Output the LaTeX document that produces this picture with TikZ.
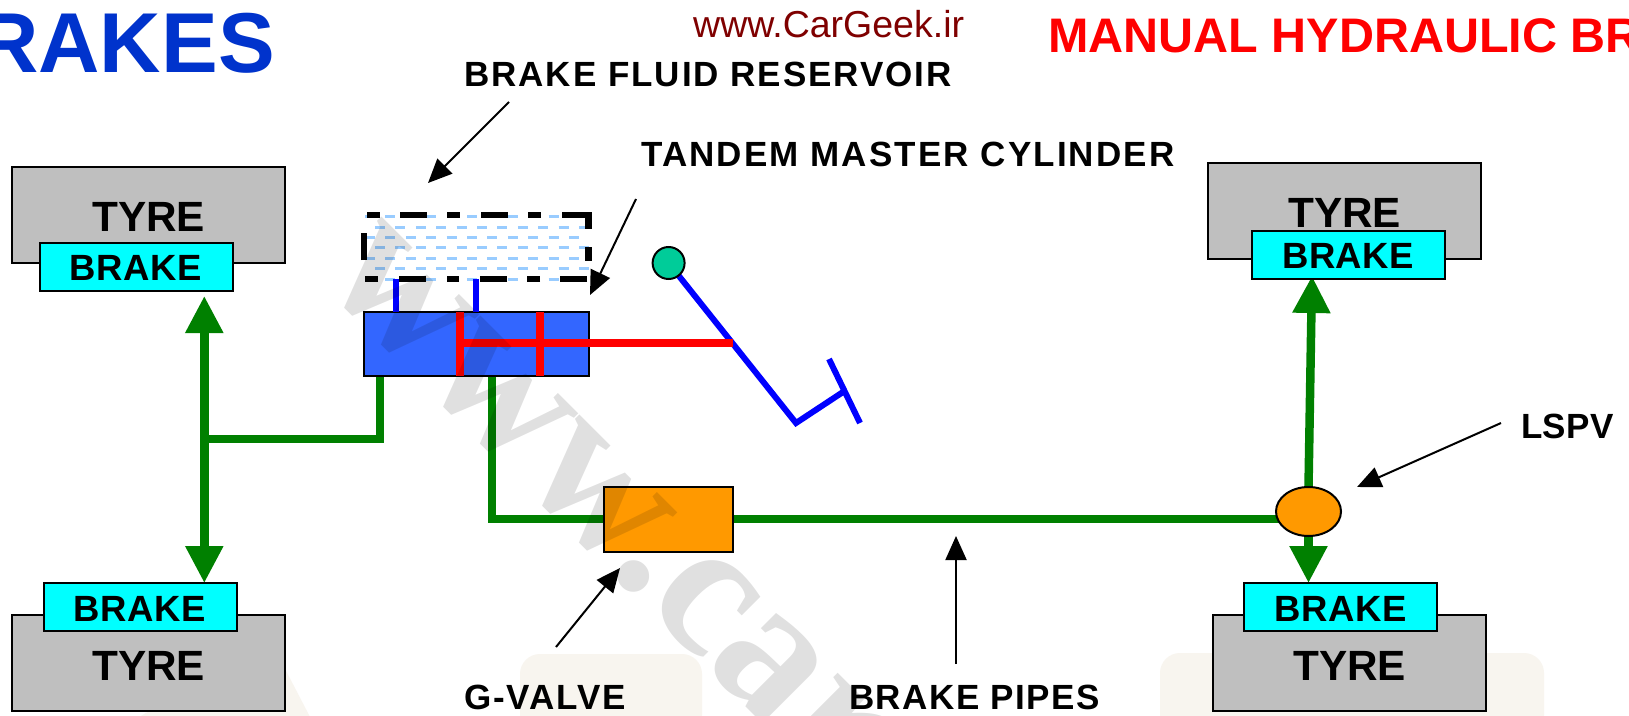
\documentclass[tikz,border=0pt]{standalone}
\usepackage{fontspec}
\setmainfont{Liberation Sans}
\newfontfamily\wmfont{Liberation Serif}
\usetikzlibrary{arrows.meta,shapes.geometric,calc,backgrounds}
\definecolor{pipegreen}{HTML}{008000}
\definecolor{tyregrey}{HTML}{BFBFBF}
\definecolor{brakecyan}{HTML}{00FFFF}
\definecolor{mcblue}{HTML}{3366FF}
\definecolor{valveorange}{HTML}{FF9900}
\definecolor{pedalblue}{HTML}{0000FF}
\definecolor{pivotgreen}{HTML}{00CC99}
\definecolor{fluidblue}{HTML}{99CCFF}
\definecolor{titleblue}{HTML}{0033CC}
\definecolor{urlred}{HTML}{7F0000}
\definecolor{beige}{HTML}{F8F5EF}
\tikzset{
  x=1pt,y=-1pt,
  boxnode/.style={draw=black,line width=2pt,anchor=north west,inner sep=0pt,outer sep=0pt},
  tyrebox/.style={boxnode,fill=tyregrey,minimum width=273pt,minimum height=96pt},
  brakebox/.style={boxnode,fill=brakecyan,minimum width=193pt,minimum height=48pt},
  tyretext/.style={font=\fontsize{42.3}{43}\selectfont\bfseries,anchor=base west,inner sep=0pt},
  braketext/.style={font=\fontsize{36.5}{36}\selectfont\bfseries\addfontfeature{LetterSpace=1.5},anchor=base west,inner sep=0pt},
  labeltext/.style={font=\fontsize{35}{35}\selectfont\bfseries\addfontfeature{LetterSpace=#1},anchor=base west,inner sep=0pt},
  labeltext/.default=5.6,
  pipe/.style={draw=pipegreen,line width=8.5pt,line join=miter},
  pipearrow/.style={pipe,-{Triangle[length=37pt,width=36pt]}},
  pointer/.style={draw=black,line width=2pt,-{Triangle[length=24pt,width=21pt]}},
  pedal/.style={draw=pedalblue,line width=6pt,line join=miter},
  piston/.style={draw=red,line width=7.5pt},
  fluid/.style={draw=fluidblue,line width=3pt,dash pattern=on 10pt off 10.4pt},
  blackdash/.style={draw=black,line width=6.5pt},
}
\begin{document}
\begin{tikzpicture}
\useasboundingbox (0,0) rectangle (1629,715);
\begin{scope}[on background layer]
\fill[white] (0,0) rectangle (1629,715);
% faint background shapes
\fill[beige,rounded corners=20pt] (520,654) rectangle (702,740);
\fill[beige,rounded corners=20pt] (1160,653) rectangle (1544,740);
\fill[beige] (100,740) -- (270,640) -- (322,740) -- cycle;
\end{scope}

% headings
\node[font=\fontsize{85}{85}\selectfont\bfseries,text=titleblue,anchor=base east,inner sep=0pt] (title) at (275,72) {RAKES};
\node[font=\fontsize{37.5}{37}\selectfont,text=urlred,anchor=base west,inner sep=0pt] (url) at (693,37) {www.CarGeek.ir};
\node[font=\fontsize{48.5}{49}\selectfont\bfseries,text=red,anchor=base west,inner sep=0pt] (subtitle) at (1048,52) {MANUAL HYDRAULIC BR};

% tyres and brakes
\node[tyrebox] (tyreTL) at (12,167) {};
\node[brakebox] (brakeTL) at (40,243) {};
\node[tyrebox] (tyreBL) at (12,615) {};
\node[brakebox] (brakeBL) at (44,583) {};
\node[tyrebox] (tyreTR) at (1208,163) {};
\node[brakebox] (brakeTR) at (1252,231) {};
\node[tyrebox] (tyreBR) at (1213,615) {};
\node[brakebox] (brakeBR) at (1244,583) {};
\node[tyretext] (tTL) at (92,231) {TYRE};
\node[tyretext] (tBL) at (92,680) {TYRE};
\node[tyretext] (tTR) at (1288,227) {TYRE};
\node[tyretext] (tBR) at (1293,680) {TYRE};
\node[braketext] (bTL) at (69.5,280) {BRAKE};
\node[braketext] (bBL) at (73.5,621) {BRAKE};
\node[braketext] (bTR) at (1282,268) {BRAKE};
\node[braketext] (bBR) at (1274.5,621) {BRAKE};

% reservoir fluid
\foreach \yy/\xs in {216/365,227/375,237/365,247/375,258/365,268/375,279/365}
  \draw[fluid] (\xs,\yy) -- (589,\yy);
% reservoir outline
\draw[blackdash]
  (367,215) -- (380,215) (400,215) -- (427,215) (447,215) -- (460,215)
  (481,215) -- (507.5,215) (528,215) -- (541,215)
  (562,215) -- (588.6,215) -- (588.6,229)
  (588.6,247) -- (588.6,261)
  (587,279) -- (560,279) (540,279) -- (527,279) (507,279) -- (480,279)
  (459,279) -- (447,279) (426,279) -- (399,279) (378,279) -- (365,279)
  (364,260) -- (364,233);
\coordinate (resA) at (396,279);
\coordinate (resB) at (476,279);

% master cylinder
\node[boxnode,fill=mcblue,minimum width=225pt,minimum height=64pt] (mc) at (364,312) {};
\draw[pedalblue,line width=6.5pt] (resA) -- (resA |- mc.north);
\draw[pedalblue,line width=6.5pt] (resB) -- (resB |- mc.north);

% pedal
\coordinate (pedalPivot) at (668.6,263);
\coordinate (pedalKnee) at (796,423);
\coordinate (pedalFoot) at (843,392);
\coordinate (padTop) at (829,359);
\coordinate (padEnd) at (860,423);
\coordinate (rodEnd) at (733,343);
\draw[pedal] (pedalPivot) -- (pedalKnee) -- (pedalFoot);
\draw[pedal] (padTop) -- (padEnd);
\node[circle,draw=black,line width=2pt,fill=pivotgreen,minimum size=32pt,inner sep=0pt] (pivot) at (pedalPivot) {};

% pistons and rod
\coordinate (pistonA) at (460,343);
\coordinate (pistonB) at (540,343);
\draw[piston] (pistonA |- mc.north) -- (pistonA |- mc.south);
\draw[piston] (pistonB |- mc.north) -- (pistonB |- mc.south);
\draw[piston] (pistonA) -- (rodEnd);

% valves
\node[boxnode,fill=valveorange,minimum width=129pt,minimum height=65pt] (valve) at (604,487) {};
\node[ellipse,draw=black,line width=2pt,fill=valveorange,minimum width=65pt,minimum height=49pt,inner sep=0pt,outer sep=0pt] (lspv) at (1308.5,511.5) {};

% pipes
\coordinate (juncL) at (204.3,439);
\coordinate (mcL) at (380,376);
\coordinate (mcR) at (492,376);
\coordinate (tipTL) at (204.3,296);
\coordinate (tipTR) at (1312,276);
\coordinate (pipeY) at (0,519);
\begin{scope}[on background layer]
\draw[pipe] (mcL) -- (380,439) -- (juncL);
\draw[pipearrow] (juncL) -- (tipTL);
\draw[pipearrow] (juncL) -- (juncL |- brakeBL.north);
\draw[pipe] (mcR) -- (492,519) -- (valve.west |- pipeY);
\draw[pipe] (valve.east |- pipeY) -- (lspv.center |- pipeY);
\draw[pipearrow] (lspv.north) -- (tipTR);
\draw[pipearrow] (lspv.south) -- (lspv.south |- brakeBR.north);
\end{scope}

% labels
\node[labeltext] (lblRes) at (464,86) {BRAKE FLUID RESERVOIR};
\node[labeltext=6] (lblTmc) at (641,166) {TANDEM MASTER CYLINDER};
\node[labeltext=1] (lblLspv) at (1521,438) {LSPV};
\node[labeltext] (lblGv) at (464,709) {G-VALVE};
\node[labeltext=4.3] (lblPipes) at (849,709) {BRAKE PIPES};

% pointers
\coordinate (pResS) at (509,102);
\coordinate (pResT) at (428,183);
\coordinate (pTmcS) at (636,199);
\coordinate (pTmcT) at (590,295);
\coordinate (pGvS) at (556,647);
\coordinate (pGvT) at (620,568);
\coordinate (pPipeS) at (956,664);
\coordinate (pPipeT) at (956,536);
\coordinate (pLspvS) at (1501,423);
\coordinate (pLspvT) at (1357,487);
\draw[pointer] (pResS) -- (pResT);
\draw[pointer] (pTmcS) -- (pTmcT);
\draw[pointer] (pGvS) -- (pGvT);
\draw[pointer] (pPipeS) -- (pPipeT);
\draw[pointer] (pLspvS) -- (pLspvT);

% watermark
\node[font=\fontsize{194}{194}\selectfont\wmfont\bfseries,text=black,text opacity=0.12,rotate=-45,anchor=base west,inner sep=0pt] (wm) at (318,279) {www.car};
\end{tikzpicture}
\end{document}
